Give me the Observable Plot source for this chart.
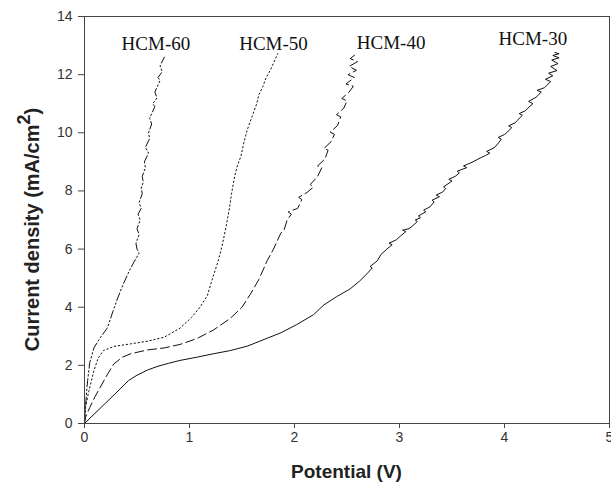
<!DOCTYPE html>
<html>
<head>
<meta charset="utf-8">
<script src="https://cdn.jsdelivr.net/npm/d3@7"></script>
<script src="https://cdn.jsdelivr.net/npm/@observablehq/plot@0.6"></script>
<style>
  html, body { margin: 0; padding: 0; background: #fff; }
</style>
</head>
<body>
<div id="chart"></div>
<script>
// Potential (V), current density (mA/cm^2)
const seriesNames = ["HCM-30", "HCM-40", "HCM-50", "HCM-60"];

const hcm30 = [
  [0,0],[0.1,0.35],[0.2,0.7],[0.3,1.05],[0.42,1.48],[0.5,1.66],[0.6,1.84],[0.7,1.97],
  [0.8,2.07],[0.91,2.17],[1.07,2.28],[1.23,2.40],[1.39,2.51],[1.55,2.66],[1.71,2.89],
  [1.87,3.12],[2.02,3.40],[2.18,3.74],[2.28,4.08],[2.40,4.36],[2.53,4.63],[2.62,4.90],
  [2.69,5.15],[2.74,5.35],[2.72,5.40],[2.79,5.60],[2.82,5.80],[2.88,6.00],[2.93,6.15],
  [2.90,6.20],[2.97,6.32],[3.01,6.45],[3.06,6.60],[3.03,6.65],[3.09,6.70],[3.12,6.78],
  [3.17,6.95],[3.15,7.00],[3.20,7.08],[3.18,7.14],[3.25,7.28],[3.23,7.34],[3.29,7.45],
  [3.33,7.62],[3.31,7.68],[3.38,7.80],[3.35,7.86],[3.41,7.96],[3.44,8.08],[3.42,8.14],
  [3.50,8.34],[3.47,8.40],[3.53,8.50],[3.57,8.62],[3.55,8.68],[3.64,8.80],[3.61,8.86],
  [3.70,9.00],[3.74,9.08],[3.78,9.15],[3.82,9.22],[3.86,9.30],[3.83,9.36],[3.90,9.48],
  [3.92,9.55],[3.97,9.78],[3.94,9.84],[4.00,9.94],[4.02,10.00],[4.07,10.18],[4.04,10.24],
  [4.10,10.34],[4.12,10.42],[4.17,10.60],[4.14,10.66],[4.20,10.76],[4.22,10.84],[4.27,11.00],
  [4.23,11.08],[4.30,11.22],[4.35,11.40],[4.31,11.46],[4.38,11.55],[4.40,11.62],[4.44,11.76],
  [4.39,11.84],[4.46,11.96],[4.42,12.05],[4.50,12.14],[4.44,12.28],[4.51,12.38],[4.45,12.50],
  [4.52,12.58],[4.46,12.66],[4.52,12.72],[4.48,12.76]
];

const hcm40 = [
  [0,0],[0.01,0.22],[0.05,0.55],[0.1,0.92],[0.15,1.25],[0.22,1.70],[0.28,2.05],[0.36,2.28],
  [0.44,2.40],[0.60,2.53],[0.76,2.60],[0.91,2.72],[1.07,2.92],[1.23,3.22],[1.39,3.62],
  [1.50,4.00],[1.58,4.45],[1.66,4.95],[1.74,5.60],[1.80,6.00],[1.87,6.55],[1.90,6.65],
  [1.93,7.00],[1.97,7.20],[1.94,7.28],[2.03,7.40],[2.07,7.70],[2.04,7.78],[2.12,7.95],
  [2.18,8.13],[2.15,8.22],[2.22,8.50],[2.26,8.80],[2.22,8.86],[2.29,9.10],[2.32,9.40],
  [2.28,9.46],[2.35,9.70],[2.38,9.95],[2.34,10.02],[2.41,10.25],[2.44,10.55],[2.40,10.62],
  [2.47,10.85],[2.50,11.10],[2.45,11.18],[2.52,11.40],[2.56,11.60],[2.49,11.68],[2.57,11.90],
  [2.51,12.00],[2.59,12.15],[2.52,12.28],[2.60,12.45],[2.53,12.55],[2.59,12.72]
];

const hcm50 = [
  [0,0],[0.01,0.56],[0.04,1.10],[0.09,1.82],[0.13,2.25],[0.18,2.51],[0.28,2.65],[0.44,2.74],
  [0.60,2.83],[0.76,2.97],[0.91,3.28],[1.02,3.65],[1.10,4.00],[1.17,4.40],[1.22,5.00],
  [1.27,5.55],[1.31,6.10],[1.35,6.80],[1.38,7.40],[1.40,7.90],[1.43,8.50],[1.45,8.80],
  [1.49,9.20],[1.52,9.70],[1.55,10.10],[1.59,10.50],[1.64,11.00],[1.66,11.30],[1.70,11.60],
  [1.73,11.90],[1.77,12.15],[1.80,12.40],[1.84,12.72]
];

const hcm60 = [
  [0,0],[0.01,0.6],[0.02,1.1],[0.03,1.48],[0.05,2.1],[0.09,2.6],[0.15,2.95],[0.22,3.3],
  [0.27,3.85],[0.32,4.35],[0.37,4.8],[0.42,5.2],[0.47,5.55],[0.52,5.85],[0.50,6.0],
  [0.49,6.2],[0.52,6.5],[0.50,6.7],[0.53,7.0],[0.51,7.2],[0.54,7.4],[0.52,7.6],[0.55,7.9],
  [0.54,8.1],[0.56,8.3],[0.55,8.5],[0.58,8.8],[0.57,9.0],[0.61,9.3],[0.58,9.5],[0.62,9.8],
  [0.61,10.0],[0.64,10.3],[0.62,10.5],[0.67,10.9],[0.65,11.0],[0.69,11.2],[0.67,11.4],
  [0.72,11.8],[0.70,11.9],[0.74,12.1],[0.72,12.3],[0.76,12.6]
];

const labelX = [4.27, 2.92, 1.80, 0.68];
const labelY = [13.23, 13.09, 13.05, 13.05];
const xTicks = [0, 1, 2, 3, 4, 5];
const yTicks = [0, 2, 4, 6, 8, 10, 12, 14];

const labels = seriesNames.map((name, i) => ({name, x: labelX[i], y: labelY[i]}));
const dashes = ["none", "9,4", "1.4,2.6", "8,2.5,1.5,2.5,1.5,2.5"];
const seriesData = [hcm30, hcm40, hcm50, hcm60];

const lineMarks = seriesData.map((d, i) =>
  Plot.line(d, {x: p => p[0], y: p => p[1], stroke: "#111", strokeWidth: 1,
    strokeDasharray: dashes[i] === "none" ? undefined : dashes[i]}));

const chart = Plot.plot({
  width: 611,
  height: 497,
  marginLeft: 84,
  marginRight: 2,
  marginTop: 16,
  marginBottom: 74,
  style: {fontFamily: "'Liberation Sans', Arial, sans-serif", fontSize: "14px", color: "#333", background: "#fff"},
  x: {domain: [0, 5]},
  y: {domain: [0, 14]},
  marks: [
    Plot.axisX({ticks: xTicks, tickFormat: d3.format("d"), tickSize: 5, tickPadding: 4, label: null, stroke: "#444", fontSize: 14}),
    Plot.axisY({ticks: yTicks, tickFormat: d3.format("d"), tickSize: 6, tickPadding: 6, label: null, stroke: "#444", fontSize: 14}),
    ...lineMarks,
    Plot.frame({stroke: "#444"}),
    Plot.text(labels, {x: "x", y: "y", text: "name", fontFamily: "'Liberation Serif', 'Times New Roman', serif",
      fontSize: 19, fill: "#111"})
  ]
});

document.getElementById("chart").appendChild(chart);

const svg = d3.select(chart);
const xr = chart.scale("x").range;
const yr = chart.scale("y").range;
svg.append("text")
  .attr("x", (xr[0] + xr[1]) / 2).attr("y", 478)
  .attr("text-anchor", "middle")
  .attr("font-family", "'Liberation Sans', Arial, sans-serif")
  .attr("font-weight", "bold").attr("font-size", 19).attr("fill", "#222")
  .text("Potential (V)");

const yt = svg.append("text")
  .attr("transform", `translate(39,${(yr[0] + yr[1]) / 2 + 10}) rotate(-90)`)
  .attr("text-anchor", "middle")
  .attr("font-family", "'Liberation Sans', Arial, sans-serif")
  .attr("font-weight", "bold").attr("font-size", 20).attr("fill", "#222");
yt.append("tspan").text("Current density (mA/cm");
yt.append("tspan").attr("dy", "-0.5em").attr("font-size", 18).text("2");
yt.append("tspan").attr("dy", "0.45em").text(")");
</script>
</body>
</html>
